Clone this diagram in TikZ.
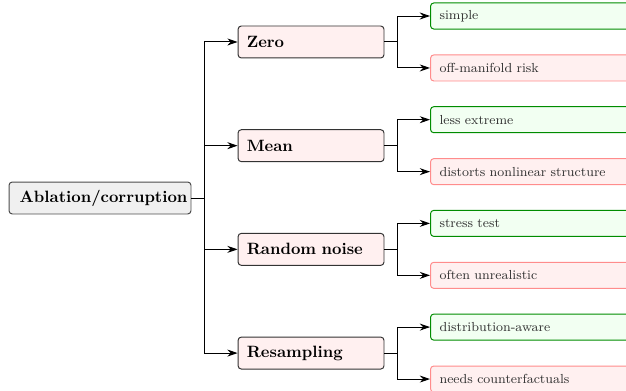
\documentclass[tikz,border=0pt]{standalone}
\usetikzlibrary{arrows.meta}
\begin{document}
\begin{tikzpicture}[>={Stealth[length=2.2mm,width=1.5mm]},
                root/.style={rectangle,rounded corners=2pt,draw=black!70,fill=black!6,semithick,
                font=\bfseries,text width=98pt,align=left,inner xsep=6.5pt,minimum height=19.5pt},
                method/.style={rectangle,rounded corners=2pt,draw=black!80,fill=red!6,semithick,
                font=\bfseries,text width=78.4pt,align=left,inner xsep=5.3pt,minimum height=19.5pt},
                pro/.style={rectangle,rounded corners=2pt,draw=green!55!black,fill=green!5,semithick,
                font=\footnotesize,text=black!80,text width=130pt,align=left,inner xsep=5.5pt,
                minimum height=15.9pt,anchor=west},
                con/.style={rectangle,rounded corners=2pt,draw=red!45,fill=red!6,semithick,
                font=\footnotesize,text=black!80,text width=130pt,align=left,inner xsep=5.5pt,
                minimum height=15.9pt,anchor=west}]
                \useasboundingbox (0,0) rectangle (13.42,-8.38);
                \node (r) at ( 2.144,-4.245) [root] {Ablation/corruption};
                \node (z) at ( 6.668,-0.900) [method] {Zero};
                \node (m) at ( 6.668,-3.123) [method] {Mean};
                \node (n) at ( 6.668,-5.346) [method] {Random noise};
                \node (s) at ( 6.668,-7.569) [method] {Resampling};
                \node (z1) at ( 9.219,-0.343) [pro] {simple};
                \node (z2) at ( 9.219,-1.457) [con] {off-manifold risk};
                \node (m1) at ( 9.219,-2.566) [pro] {less extreme};
                \node (m2) at ( 9.219,-3.680) [con] {distorts nonlinear structure};
                \node (n1) at ( 9.219,-4.789) [pro] {stress test};
                \node (n2) at ( 9.219,-5.903) [con] {often unrealistic};
                \node (s1) at ( 9.219,-7.012) [pro] {distribution-aware};
                \node (s2) at ( 9.219,-8.126) [con] {needs counterfactuals};
                \coordinate (j) at ( 4.374,-4.245);
                \coordinate (jz) at ( 8.512,-0.900);
                \coordinate (jm) at ( 8.512,-3.123);
                \coordinate (jn) at ( 8.512,-5.346);
                \coordinate (js) at ( 8.512,-7.569);
                \draw[semithick,->] (r.east) -- (j) |- (z.west);
                \draw[semithick,->] (r.east) -- (j) |- (m.west);
                \draw[semithick,->] (r.east) -- (j) |- (n.west);
                \draw[semithick,->] (r.east) -- (j) |- (s.west);
                \draw[semithick,->] (z.east) -- (jz) |- (z1.west);
                \draw[semithick,->] (z.east) -- (jz) |- (z2.west);
                \draw[semithick,->] (m.east) -- (jm) |- (m1.west);
                \draw[semithick,->] (m.east) -- (jm) |- (m2.west);
                \draw[semithick,->] (n.east) -- (jn) |- (n1.west);
                \draw[semithick,->] (n.east) -- (jn) |- (n2.west);
                \draw[semithick,->] (s.east) -- (js) |- (s1.west);
                \draw[semithick,->] (s.east) -- (js) |- (s2.west);
            \end{tikzpicture}
\end{document}
